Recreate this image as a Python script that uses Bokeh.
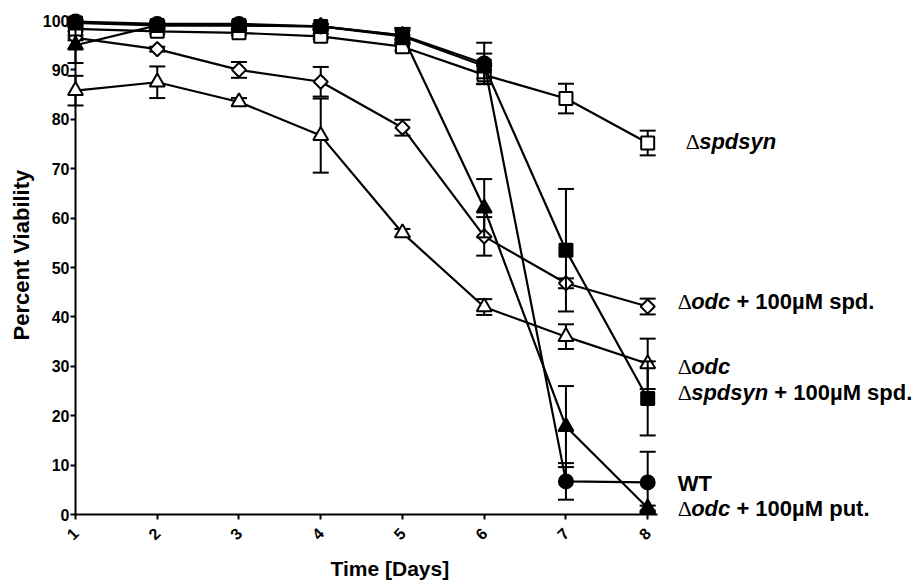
import numpy as np
from bokeh.plotting import figure
from bokeh.models import Range1d, FixedTicker, Title
from bokeh.core.properties import value
from bokeh.embed import file_html
from bokeh.resources import INLINE

# ---- data ----
days = [1, 2, 3, 4, 5, 6, 7, 8]
wt = [99.8, 99.3, 99.3, 98.8, 97.0, 91.3, 6.7, 6.5]
wt_err = [0.4, 0.5, 0.5, 0.5, 1.5, 4.2, 3.7, 6.2]
spdsyn_spd = [99.5, 99.0, 99.0, 98.8, 96.8, 90.8, 53.5, 23.5]
spdsyn_spd_err = [0.4, 0.5, 0.5, 0.5, 1.6, 2.5, 12.4, 7.5]
spdsyn = [98.3, 97.8, 97.5, 96.8, 94.7, 89.0, 84.2, 75.2]
spdsyn_err = [0.5, 0.5, 0.5, 0.5, 0.8, 1.8, 3.0, 2.5]
odc_put = [95.0, 99.0, 99.0, 98.8, 97.0, 62.0, 17.8, 1.3]
odc_put_err = [3.6, 0.5, 0.5, 0.5, 1.0, 5.9, 8.2, 0.5]
odc = [85.8, 87.5, 83.5, 76.7, 57.0, 42.0, 36.0, 30.5]
odc_err = [3.0, 3.2, 0.8, 7.5, 0.8, 1.6, 2.5, 5.1]
odc_spd = [96.5, 94.2, 90.0, 87.6, 78.3, 56.3, 46.8, 42.1]
odc_spd_err = [0.5, 0.5, 1.6, 3.0, 1.6, 3.9, 1.0, 1.6]
y_ticks = [0, 10, 20, 30, 40, 50, 60, 70, 80, 90, 100]
x_title = "Time [Days]"
y_title = "Percent Viability"

SANS = "Liberation Sans"
SERIF = "Liberation Serif"
FS = 22  # label font size in px

# series: values, errors, marker, size, fill, angle, label segments, label x/y offsets (px)
series = [
    (odc, odc_err, "triangle", 15, "white", 0.0,
     [("Δ", "serif"), ("odc", "bi")], 30, 3),
    (odc_spd, odc_spd_err, "square", 10, "white", np.pi / 4,
     [("Δ", "serif"), ("odc", "bi"), (" + 100µM spd.", "b")], 30, -5),
    (spdsyn, spdsyn_err, "square", 13, "white", 0.0,
     [("Δ", "serif"), ("spdsyn", "bi")], 38, -2),
    (odc_put, odc_put_err, "triangle", 15, "black", 0.0,
     [("Δ", "serif"), ("odc", "bi"), (" + 100µM put.", "b")], 30, 0),
    (spdsyn_spd, spdsyn_spd_err, "square", 13, "black", 0.0,
     [("Δ", "serif"), ("spdsyn", "bi"), (" + 100µM spd.", "b")], 30, -6),
    (wt, wt_err, "circle", 14, "black", 0.0,
     [("WT", "b")], 30, 1),
]

# Arial / Liberation advance widths (em) for label segment offsets
W = {"Δ": 0.613, "o": 0.611, "d": 0.611, "c": 0.556, "s": 0.556, "p": 0.611,
     "y": 0.556, "n": 0.611, " ": 0.278, "+": 0.584, "1": 0.556, "0": 0.556,
     "µ": 0.611, "M": 0.833, ".": 0.278, "u": 0.611, "t": 0.333, "W": 0.944, "T": 0.611}

def text_width(s):
    return sum(W.get(ch, 0.6) for ch in s) * FS

p = figure(width=920, height=585, output_backend="svg", toolbar_location=None,
           x_range=Range1d(1, 8.12), y_range=Range1d(0, 100),
           min_border_left=75, min_border_right=263, min_border_top=20, min_border_bottom=69)

p.grid.visible = False
p.outline_line_color = None
p.background_fill_color = "white"
p.border_fill_color = "white"

for ax in (p.xaxis[0], p.yaxis[0]):
    ax.axis_line_width = 2
    ax.axis_line_color = "black"
    ax.major_tick_line_width = 2
    ax.major_tick_line_color = "black"
    ax.major_tick_out = 5
    ax.major_tick_in = 0
    ax.minor_tick_line_color = None
    ax.major_label_text_font = SANS
    ax.major_label_text_font_style = "bold"
    ax.major_label_text_font_size = "16px"
    ax.major_label_text_color = "black"

p.xaxis.ticker = FixedTicker(ticks=days)
p.yaxis.ticker = FixedTicker(ticks=y_ticks)
p.xaxis.major_label_orientation = np.pi / 4
p.xaxis.major_label_standoff = 11
p.yaxis.major_label_standoff = 1

# axis titles (offset along the axis like the reference)
p.add_layout(Title(text=x_title, align="left", offset=255, standoff=12,
                   text_font=SANS, text_font_style="bold", text_font_size="21px",
                   text_color="black"), "below")
p.add_layout(Title(text=y_title, align="left", offset=174, standoff=12,
                   text_font=SANS, text_font_style="bold", text_font_size="22px",
                   text_color="black"), "left")

for vals, errs, marker, size, fill, ang, segs, xo, yo in series:
    v = np.array(vals, dtype=float)
    e = np.array(errs, dtype=float)
    lo = v - e
    hi = v + e
    r = p.line(days, vals, line_width=2.2, line_color="black")
    r.level = "overlay"
    r = p.segment(days, lo, days, hi, line_width=2, line_color="black")
    r.level = "overlay"
    r = p.scatter(days + days, list(lo) + list(hi), marker="dash", size=16,
                  line_width=2, line_color="black")
    r.level = "overlay"
    r = p.scatter(days, vals, marker=marker, size=size, angle=ang,
                  fill_color=fill, line_color="black", line_width=2)
    r.level = "overlay"
    off = xo
    for txt, sty in segs:
        if sty == "serif":
            font, style = SERIF, "normal"
        elif sty == "bi":
            font, style = SANS, "bold italic"
        else:
            font, style = SANS, "bold"
        lead = len(txt) - len(txt.lstrip(" "))
        off += lead * W[" "] * FS
        shown = txt.lstrip(" ")
        t = p.text(x=[days[-1]], y=[vals[-1]], text=[shown], x_offset=off, y_offset=yo,
                   text_font=value(font), text_font_style=style,
                   text_font_size=f"{FS}px", text_color="black",
                   text_align="left", text_baseline="middle")
        t.level = "overlay"
        off += text_width(shown)

open("out.html", "w").write(file_html(p, INLINE))
